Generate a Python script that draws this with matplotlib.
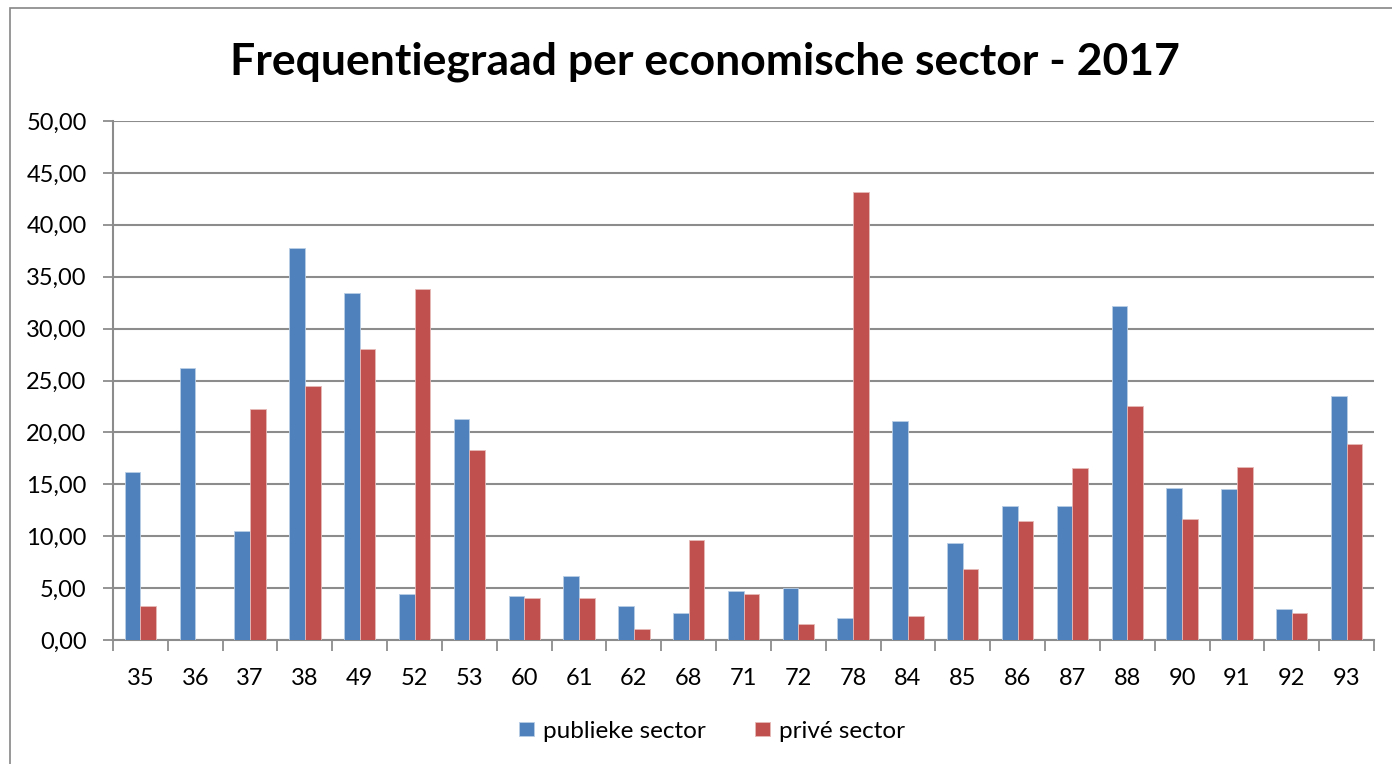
import matplotlib
matplotlib.use("Agg")
import matplotlib.pyplot as plt
import numpy as np
from matplotlib.patches import Rectangle

categories = ["35", "36", "37", "38", "49", "52", "53", "60", "61", "62", "68", "71",
              "72", "78", "84", "85", "86", "87", "88", "90", "91", "92", "93"]
publiek = [16.2, 26.2, 10.5, 37.8, 33.4, 4.4, 21.3, 4.2, 6.2, 3.3, 2.6, 4.7,
           5.0, 2.1, 21.1, 9.3, 12.9, 12.9, 32.2, 14.6, 14.5, 3.0, 23.5]
prive = [3.3, 0.0, 22.3, 24.5, 28.0, 33.8, 18.3, 4.0, 4.0, 1.1, 9.6, 4.4,
         1.5, 43.2, 2.3, 6.8, 11.5, 16.6, 22.5, 11.7, 16.7, 2.6, 18.9]
series_names = ["publieke sector", "privé sector"]
title = "Frequentiegraad per economische sector - 2017"
yticks = [0, 5, 10, 15, 20, 25, 30, 35, 40, 45, 50]

plt.rcParams['font.family'] = ['Lato', 'DejaVu Sans']

W, H = 1392, 764
fig = plt.figure(figsize=(W / 100, H / 100), dpi=100)
fig.patch.set_facecolor("white")

# outer chart border
fig.add_artist(Rectangle((10 / W, -0.01), 1.2, (H - 8) / H + 0.01, transform=fig.transFigure,
                         fill=False, edgecolor="#868686", linewidth=1.2))

left, right, top, bottom = 113, 1374, 121, 640
ax = fig.add_axes([left / W, 1 - bottom / H, (right - left) / W, (bottom - top) / H])

x = np.arange(len(categories))
bw = 1 / 3.5
blue = "#4F81BD"
red = "#C0504D"
ax.bar(x - bw / 2, publiek, width=bw, color=blue, edgecolor="#B9CDE5", linewidth=0.6,
       label=series_names[0], zorder=3)
ax.bar(x + bw / 2, prive, width=bw, color=red, edgecolor="#E6B9B8", linewidth=0.6,
       label=series_names[1], zorder=3)

ax.set_xlim(-0.5, len(categories) - 0.5)
ax.set_ylim(0, 50)
ax.set_yticks(yticks)
ax.set_yticklabels([f"{v:.2f}".replace(".", ",") for v in yticks], fontsize=17)
ax.yaxis.grid(True, color="#8C8C8C", linewidth=1.5, zorder=0)
ax.set_axisbelow(True)

ax.set_xticks(x)
ax.set_xticklabels(categories, fontsize=17)
ax.set_xticks(np.arange(-0.5, len(categories), 1), minor=True)
ax.tick_params(axis="x", which="major", length=0, pad=20)
ax.tick_params(axis="x", which="minor", length=8, color="#8C8C8C", width=1.3)
ax.tick_params(axis="y", length=7, color="#8C8C8C", width=1.3, pad=12)

for s in ["top", "right"]:
    ax.spines[s].set_visible(False)
for s in ["left", "bottom"]:
    ax.spines[s].set_color("#8C8C8C")
    ax.spines[s].set_linewidth(1.5)

fig.text(705 / W, 1 - 62 / H, title, ha="center", va="center", fontsize=32,
         fontweight="bold")

leg = fig.legend(loc="center", bbox_to_anchor=(712 / W, 1 - 731 / H), ncol=2,
                 frameon=False, fontsize=17.5, handlelength=0.62, handleheight=0.55,
                 handletextpad=0.4, columnspacing=2.0)

fig.savefig("out.png", dpi=100, facecolor="white")
